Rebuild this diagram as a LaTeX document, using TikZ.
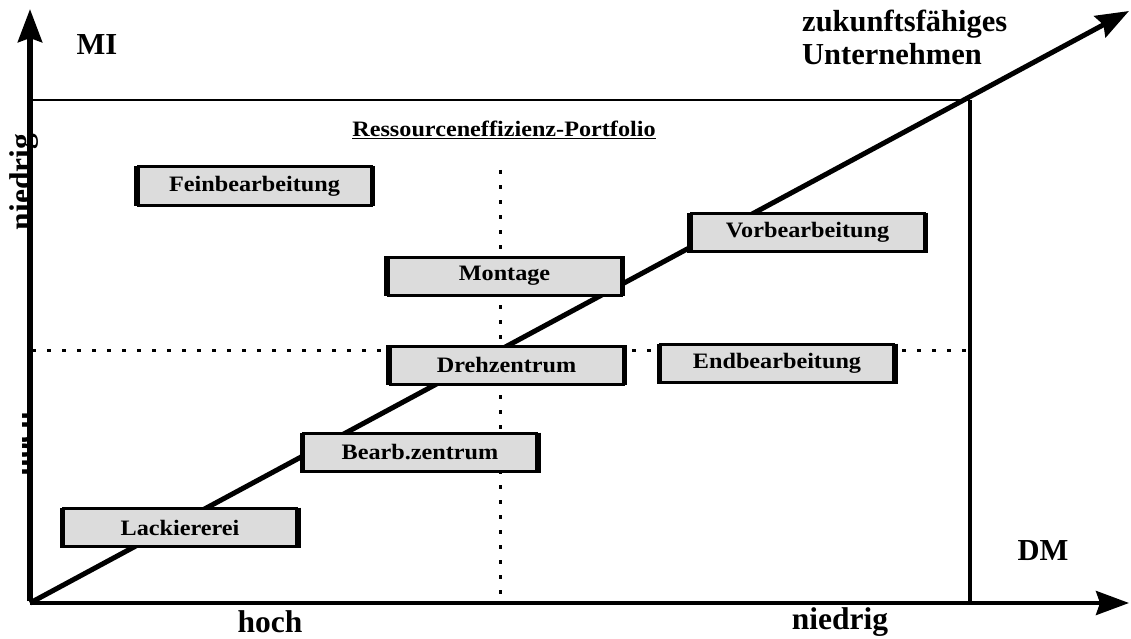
\documentclass[tikz,border=0pt]{standalone}
\usepackage{fontspec}
\setmainfont{Liberation Serif}
\newfontfamily\boxfont{Liberation Serif}[FakeStretch=1.1]
\usetikzlibrary{arrows.meta}
\definecolor{boxgray}{HTML}{DCDCDC}
\tikzset{
  procbox/.style={draw, line width=3pt, fill=boxgray, minimum width=233pt, minimum height=38pt,
    inner sep=0pt, font=\boxfont\bfseries\fontsize{22}{24}\selectfont},
  sideline/.style={line width=5pt},
  biglbl/.style={font=\bfseries\fontsize{30.5}{33}\selectfont},
  axislbl/.style={font=\bfseries\fontsize{31.5}{34}\selectfont},
  dotline/.style={line width=3pt, dash pattern=on 4pt off 11pt},
  bigarrow/.style={-{Stealth[length=33pt,width=24pt,inset=4pt]}}
}
\begin{document}
\begin{tikzpicture}[x=1pt,y=-1pt]
\useasboundingbox (0,0) rectangle (1131,639);
% coordinates
\coordinate (O) at (30,603);
\coordinate (Ytip) at (30,9);
\coordinate (Xtip) at (1129,603);
\coordinate (Dtip) at (1129,11);
\coordinate (R1) at (30,100);
\coordinate (R2) at (970,100);
\coordinate (R3) at (970,603);
\coordinate (V1) at (500,170);
\coordinate (V2) at (500,603);
\coordinate (H1) at (32,350);
\coordinate (H2) at (970,350);
% dotted quadrant lines
\draw[dotline] (V1) -- (V2);
\draw[dotline] (H1) -- (H2);
% frame
\draw[line width=2.5pt] (R1) -- (R2);
\draw[line width=4pt] (R2) -- (R3);
% axes
\draw[line width=4pt, bigarrow] (O) -- (Xtip);
\draw[line width=6pt, bigarrow] ([yshift=2pt]O) -- (Ytip);
% diagonal
\draw[line width=5pt, bigarrow] (O) -- (Dtip);
% boxes
\node[procbox] (fein) at (254.5,186) {Feinbearbeitung};
\node[procbox] (mont) at (504.5,276) {Montage};
\node[procbox] (dreh) at (506.5,365) {Drehzentrum};
\node[procbox] (vor) at (807.5,232.5) {Vorbearbeitung};
\node[procbox] (endb) at (777,363.5) {Endbearbeitung};
\node[procbox] (bearb) at (420,452.5) {Bearb.zentrum};
\node[procbox] (lack) at (180,527.5) {Lackiererei};
\foreach \n in {fein,mont,dreh,vor,endb,bearb,lack}{
  \draw[sideline] ([yshift=-0.5pt]\n.north west) -- ([yshift=0.5pt]\n.south west);
  \draw[sideline] ([yshift=-0.5pt]\n.north east) -- ([yshift=0.5pt]\n.south east);
}
% labels
\node[font=\boxfont\bfseries\fontsize{22}{24}\selectfont, anchor=base] (title) at (504,137) {\underline{Ressourceneffizienz-Portfolio}};
\node[biglbl, anchor=base] (mi) at (97,55) {MI};
\node[biglbl, anchor=base west, inner sep=0pt] (zu1) at (802,32) {zukunftsfähiges};
\node[biglbl, anchor=base west, inner sep=0pt] (zu2) at (802,65) {Unternehmen};
\node[biglbl, anchor=base] (dm) at (1043,560) {DM};
\node[axislbl, anchor=base] (hochx) at (270,632) {hoch};
\node[axislbl, anchor=base] (niedx) at (840,629) {niedrig};
\node[axislbl, anchor=base, rotate=90, inner sep=0pt] (niedy) at (31.5,182) {niedrig};
\begin{scope}
  \clip (22,395) rectangle (40,495);
  \node[axislbl, anchor=base, rotate=90, inner sep=0pt] (hochy) at (31.5,444) {hoch};
\end{scope}
\draw[line width=6pt] ([yshift=2pt]O) -- (30,60);
\end{tikzpicture}
\end{document}
